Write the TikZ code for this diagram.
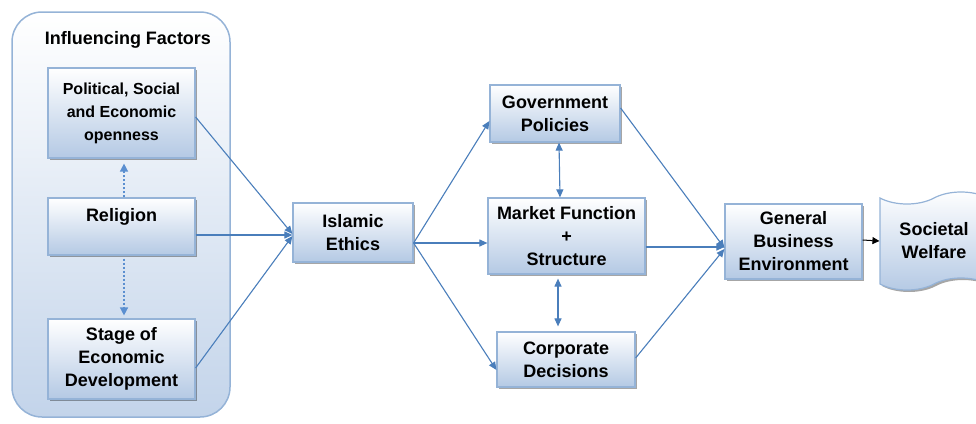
\documentclass[tikz,border=0pt]{standalone}
\usepackage{fontspec}
\setmainfont{Liberation Sans}
\usetikzlibrary{shadows,shapes.symbols,arrows.meta}

\definecolor{linkblue}{HTML}{4A7EBB}
\definecolor{dotblue}{HTML}{5B8FD0}
\definecolor{boxline}{HTML}{95B3D7}
\definecolor{boxfill}{HTML}{B4C9E4}
\definecolor{framefill}{HTML}{C3D4EA}

\tikzset{
  factorbox/.style={draw=boxline, line width=1.2pt, top color=white, bottom color=boxfill,
    drop shadow={shadow xshift=2pt, shadow yshift=-2pt, fill=black, opacity=0.35},
    align=center, inner sep=0pt, font=\fontsize{18}{23}\selectfont\bfseries},
  factorframe/.style={draw=boxline, line width=1.5pt, rounded corners=30pt,
    top color=white, bottom color=framefill},
  link/.style={draw=linkblue, line width=1.1pt, -{Triangle[length=8pt,width=7pt]}},
  twolink/.style={link, {Triangle[length=8pt,width=7pt]}-{Triangle[length=8pt,width=7pt]}},
  dotlink/.style={draw=dotblue, line width=1.5pt, dash pattern=on 2pt off 2pt,
    -{Triangle[length=8pt,width=8pt]}},
}

\begin{document}
\begin{tikzpicture}[x=1pt,y=-1pt]
  \useasboundingbox (0,0) rectangle (976,423);

  % influencing factors
  \node[factorframe, minimum width=218, minimum height=405] (frame) at (121,214.5) {};
  \node[font=\fontsize{18}{23}\selectfont\bfseries] (ftitle) at (128,40) {Influencing Factors};
  \node[factorbox, minimum width=147, minimum height=90,
    font=\fontsize{16}{23}\selectfont\bfseries] (pol) at (121.5,113) {Political, Social\\and Economic\\openness};
  \node[factorbox, minimum width=147, minimum height=57] (rel) at (121.5,226.5) {Religion\\\mbox{}};
  \node[factorbox, minimum width=147, minimum height=80] (stage) at (121.5,359) {Stage of\\Economic\\Development};

  % middle
  \node[factorbox, minimum width=120, minimum height=59] (isl) at (353,232.5) {Islamic\\Ethics};
  \node[factorbox, minimum width=130, minimum height=57] (gov) at (555,113.5) {Government\\Policies};
  \node[factorbox, minimum width=157, minimum height=76] (market) at (566.5,236) {Market Function\\+\\Structure};
  \node[factorbox, minimum width=138, minimum height=55] (corp) at (566,359.5) {Corporate\\Decisions};
  \node[factorbox, minimum width=137, minimum height=75] (gbe) at (793.5,241.5) {General\\Business\\Environment};
  \node[factorbox, tape, tape bend height=12pt, minimum width=108, minimum height=98] (soc) at (934,241) {Societal\\Welfare};

  % dotted links
  \draw[dotlink] ([shift={(2.5,0)}]rel.north) -- ([shift={(2.5,5)}]pol.south);
  \draw[dotlink] ([shift={(2.5,3)}]rel.south) -- ([shift={(2.5,-3)}]stage.north);

  % into islamic ethics
  \draw[link] ([shift={(0,4)}]pol.east) -- ([shift={(0,1.5)}]isl.west);
  \draw[link] ([shift={(0,8.5)}]rel.east) -- ([shift={(0,2.5)}]isl.west);
  \draw[link] ([shift={(0,9)}]stage.east) -- ([shift={(0,3.5)}]isl.west);

  % out of islamic ethics
  \coordinate (islout) at ([shift={(0,10.5)}]isl.east);
  \draw[link] (islout) -- ([shift={(0,7.5)}]gov.west);
  \draw[link] (islout) -- ([shift={(0,7)}]market.west);
  \draw[link] (islout) -- ([shift={(0,10.5)}]corp.west);

  \draw[twolink] ([shift={(4,0)}]gov.south) -- ([shift={(-6.5,0)}]market.north);
  \draw[twolink] ([shift={(-8.5,4)}]market.south) -- ([shift={(-8,-5)}]corp.north);

  % into business environment
  \draw[link] ([shift={(0,-5.5)}]gov.east) -- ([shift={(0,6.5)}]gbe.west);
  \draw[link] ([shift={(0,11)}]market.east) -- ([shift={(0,5.5)}]gbe.west);
  \draw[link] ([shift={(0,-1.5)}]corp.east) -- ([shift={(0,7.5)}]gbe.west);

  \draw[-{Triangle[length=7pt,width=7pt]}, line width=1pt] ([shift={(0,-1.5)}]gbe.east) -- (soc.west);
\end{tikzpicture}
\end{document}
